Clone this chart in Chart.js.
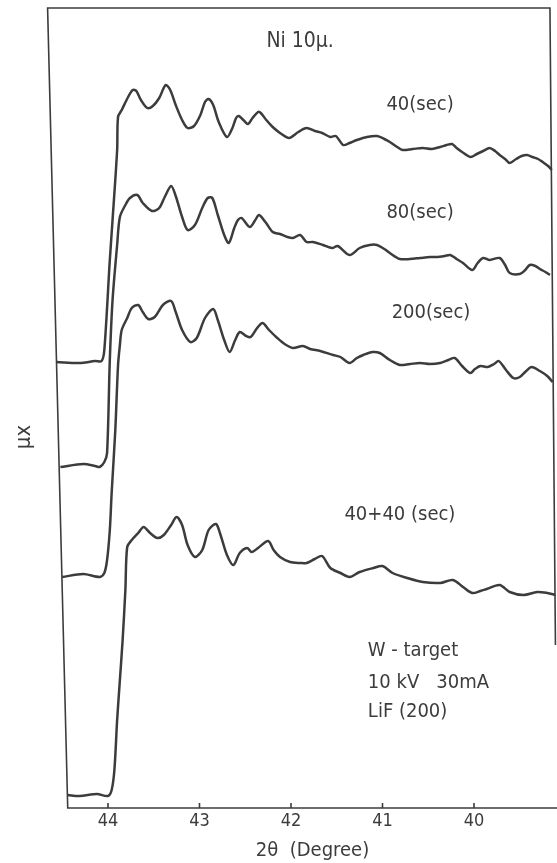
<!DOCTYPE html>
<html>
<head>
<meta charset="utf-8">
<title>Ni 10μ absorption edge</title>
<script src="https://cdn.jsdelivr.net/npm/chart.js@4.4.1/dist/chart.umd.min.js"></script>
<style>
  html, body { margin: 0; padding: 0; background: #fff; }
  #chart { display: block; }
</style>
</head>
<body>
<canvas id="chart" width="557" height="863"></canvas>
<script>
// 2θ in degrees, μx in arbitrary units (height above the base line)
const deg40 = [44.56, 44.31, 44.14, 44.07, 44.04, 43.98, 43.95, 43.90, 43.89, 43.85, 43.78, 43.73, 43.69, 43.64, 43.57, 43.51, 43.44, 43.37, 43.32, 43.26, 43.19, 43.13, 43.06, 42.99, 42.94, 42.90, 42.85, 42.79, 42.70, 42.64, 42.60, 42.57, 42.52, 42.47, 42.42, 42.36, 42.33, 42.27, 42.20, 42.12, 42.02, 41.92, 41.83, 41.74, 41.66, 41.57, 41.51, 41.43, 41.36, 41.28, 41.17, 41.06, 40.98, 40.92, 40.84, 40.78, 40.67, 40.56, 40.46, 40.37, 40.30, 40.24, 40.19, 40.13, 40.04, 39.97, 39.90, 39.83, 39.77, 39.72, 39.66, 39.61, 39.54, 39.48, 39.42, 39.36, 39.30, 39.25, 39.19, 39.15];
const mu40 = [446, 445, 447, 447, 458, 548, 588, 658, 691, 698, 711, 718, 717, 708, 700, 702, 710, 723, 718, 703, 688, 680, 682, 693, 706, 709, 703, 686, 671, 680, 690, 692, 688, 684, 690, 696, 695, 688, 681, 675, 670, 676, 680, 677, 675, 671, 672, 663, 665, 668, 671, 672, 669, 666, 661, 658, 659, 660, 659, 661, 663, 664, 660, 656, 651, 654, 657, 660, 657, 653, 649, 645, 649, 652, 653, 651, 649, 646, 642, 638];

const deg80 = [44.52, 44.27, 44.14, 44.09, 44.04, 44.01, 43.98, 43.95, 43.90, 43.87, 43.81, 43.76, 43.68, 43.62, 43.52, 43.44, 43.38, 43.31, 43.26, 43.19, 43.13, 43.05, 42.97, 42.91, 42.86, 42.80, 42.73, 42.68, 42.62, 42.58, 42.54, 42.45, 42.39, 42.35, 42.28, 42.20, 42.12, 42.04, 41.98, 41.90, 41.83, 41.76, 41.65, 41.55, 41.49, 41.36, 41.25, 41.14, 41.06, 40.98, 40.92, 40.81, 40.70, 40.59, 40.48, 40.40, 40.32, 40.26, 40.19, 40.12, 40.02, 39.96, 39.90, 39.83, 39.72, 39.66, 39.61, 39.50, 39.44, 39.39, 39.33, 39.28, 39.22, 39.17];
const mu80 = [341, 344, 342, 341, 346, 355, 448, 508, 563, 591, 603, 610, 613, 605, 597, 600, 611, 622, 612, 591, 578, 583, 600, 610, 610, 593, 573, 565, 580, 588, 590, 581, 588, 593, 586, 576, 574, 571, 570, 573, 566, 566, 563, 560, 562, 553, 560, 563, 563, 559, 555, 549, 549, 550, 551, 551, 552, 553, 549, 545, 538, 545, 550, 548, 550, 543, 535, 534, 538, 543, 542, 539, 536, 533];

const deg200 = [44.50, 44.27, 44.09, 44.04, 44.01, 43.98, 43.96, 43.92, 43.89, 43.87, 43.85, 43.79, 43.74, 43.67, 43.62, 43.56, 43.49, 43.40, 43.31, 43.26, 43.19, 43.10, 43.03, 42.94, 42.85, 42.80, 42.73, 42.67, 42.61, 42.56, 42.49, 42.44, 42.37, 42.31, 42.24, 42.15, 42.07, 41.98, 41.87, 41.79, 41.68, 41.54, 41.46, 41.36, 41.28, 41.21, 41.11, 41.03, 40.92, 40.81, 40.70, 40.59, 40.48, 40.37, 40.28, 40.21, 40.13, 40.04, 39.99, 39.93, 39.85, 39.78, 39.73, 39.65, 39.57, 39.50, 39.43, 39.37, 39.28, 39.20, 39.14];
const mu200 = [231, 234, 231, 235, 248, 278, 315, 378, 443, 463, 478, 490, 500, 503, 496, 489, 491, 503, 507, 496, 478, 466, 470, 490, 499, 488, 468, 456, 468, 476, 472, 471, 480, 485, 478, 470, 464, 460, 462, 459, 457, 453, 451, 445, 450, 453, 456, 455, 448, 443, 444, 445, 444, 445, 448, 450, 442, 435, 439, 442, 441, 444, 447, 438, 430, 431, 437, 441, 437, 432, 426];

const deg4040 = [44.44, 44.31, 44.12, 44.00, 43.96, 43.93, 43.90, 43.87, 43.84, 43.81, 43.79, 43.74, 43.67, 43.61, 43.54, 43.46, 43.39, 43.31, 43.25, 43.19, 43.13, 43.05, 42.97, 42.90, 42.82, 42.77, 42.70, 42.63, 42.56, 42.48, 42.43, 42.36, 42.25, 42.19, 42.12, 42.01, 41.90, 41.83, 41.74, 41.66, 41.57, 41.46, 41.36, 41.25, 41.10, 41.00, 40.89, 40.73, 40.56, 40.37, 40.23, 40.12, 40.02, 39.93, 39.86, 39.72, 39.61, 39.46, 39.31, 39.20, 39.11];
const mu4040 = [13, 12, 14, 12, 18, 38, 88, 128, 168, 218, 261, 268, 275, 281, 275, 270, 273, 283, 291, 283, 263, 251, 258, 278, 284, 273, 253, 243, 255, 260, 256, 260, 267, 258, 251, 246, 245, 245, 249, 252, 240, 235, 231, 236, 240, 242, 235, 230, 226, 225, 228, 221, 215, 217, 219, 223, 216, 213, 216, 215, 213];

const seriesNames = ['40(sec)', '80(sec)', '200(sec)', '40+40 (sec)'];
const tickValues = [44, 43, 42, 41, 40];

const ink = '#3c3c3c';
const fontFamily = "'DejaVu Sans Condensed', 'Liberation Sans Narrow', 'DejaVu Sans', sans-serif";

function toPoints(xs, ys) {
    return xs.map((x, i) => ({ x: x, y: ys[i] }));
}

const series = [
    toPoints(deg40, mu40),
    toPoints(deg80, mu80),
    toPoints(deg200, mu200),
    toPoints(deg4040, mu4040)
];

// text written on the plot, placed in axis units
const notes = [
    { text: 'Ni 10μ.', x: 41.90, y: 766, size: 21, align: 'center' },
    { text: seriesNames[0], x: 40.59, y: 703, size: 20, align: 'center' },
    { text: seriesNames[1], x: 40.59, y: 595, size: 20, align: 'center' },
    { text: seriesNames[2], x: 40.47, y: 495, size: 20, align: 'center' },
    { text: seriesNames[3], x: 40.81, y: 293, size: 20, align: 'center' },
    { text: 'W - target', x: 41.16, y: 157, size: 20, align: 'left' },
    { text: '10 kV   30mA', x: 41.16, y: 125, size: 20, align: 'left' },
    { text: 'LiF (200)', x: 41.16, y: 96, size: 20, align: 'left' }
];

// hand-drawn frame of the original figure (slightly skewed)
const framePlugin = {
    id: 'frame',
    afterDatasetsDraw(chart) {
        const c = chart.ctx;
        const xs = chart.scales.x, ys = chart.scales.y;
        const X = v => xs.getPixelForValue(v);
        const Y = v => ys.getPixelForValue(v);
        c.save();
        c.strokeStyle = ink;
        c.lineWidth = 1.6;
        c.beginPath();
        c.moveTo(X(39.11), Y(163));
        c.lineTo(X(39.17), Y(800));
        c.lineTo(X(44.66), Y(800));
        c.lineTo(X(44.44), Y(0));
        c.lineTo(X(39.09), Y(0));
        c.stroke();
        // short tick marks pointing up from the base line
        tickValues.forEach(v => {
            c.beginPath();
            c.moveTo(X(v), Y(0));
            c.lineTo(X(v), Y(0) - 5);
            c.stroke();
        });
        c.restore();
    }
};

const notesPlugin = {
    id: 'notes',
    afterDraw(chart) {
        const c = chart.ctx;
        const xs = chart.scales.x, ys = chart.scales.y;
        c.save();
        c.fillStyle = ink;
        c.textBaseline = 'middle';
        notes.forEach(n => {
            c.font = n.size + 'px ' + fontFamily;
            c.textAlign = n.align;
            c.fillText(n.text, xs.getPixelForValue(n.x), ys.getPixelForValue(n.y));
        });
        // y axis name, written sideways
        c.font = '22px ' + fontFamily;
        c.textAlign = 'center';
        c.translate(xs.getPixelForValue(44.91), ys.getPixelForValue(371));
        c.rotate(-Math.PI / 2);
        c.fillText('μx', 0, 0);
        c.restore();
    }
};

const ctx = document.getElementById('chart');
new Chart(ctx, {
    type: 'line',
    data: {
        datasets: series.map((pts, i) => ({
            label: seriesNames[i],
            data: pts,
            borderColor: ink,
            borderWidth: 2.5,
            pointRadius: 0,
            fill: false,
            clip: false,
            tension: 0.3
        }))
    },
    options: {
        responsive: false,
        animation: false,
        devicePixelRatio: 1,
        layout: { padding: { left: 68, top: 8, right: 0, bottom: 0 } },
        plugins: {
            legend: { display: false },
            tooltip: { enabled: false }
        },
        scales: {
            x: {
                type: 'linear',
                reverse: true,
                min: 39.093,
                max: 44.437,
                grid: { display: false, drawTicks: false },
                border: { display: false },
                afterBuildTicks: s => { s.ticks = tickValues.map(v => ({ value: v })); },
                afterFit: s => { s.height = 55; },
                ticks: {
                    includeBounds: false,
                    padding: 3,
                    color: ink,
                    font: { family: fontFamily, size: 18 }
                },
                title: {
                    display: true,
                    text: '2θ  (Degree)',
                    color: ink,
                    padding: 0,
                    font: { family: fontFamily, size: 20 }
                }
            },
            y: { display: false, min: 0, max: 800 }
        }
    },
    plugins: [framePlugin, notesPlugin]
});
</script>
</body>
</html>
